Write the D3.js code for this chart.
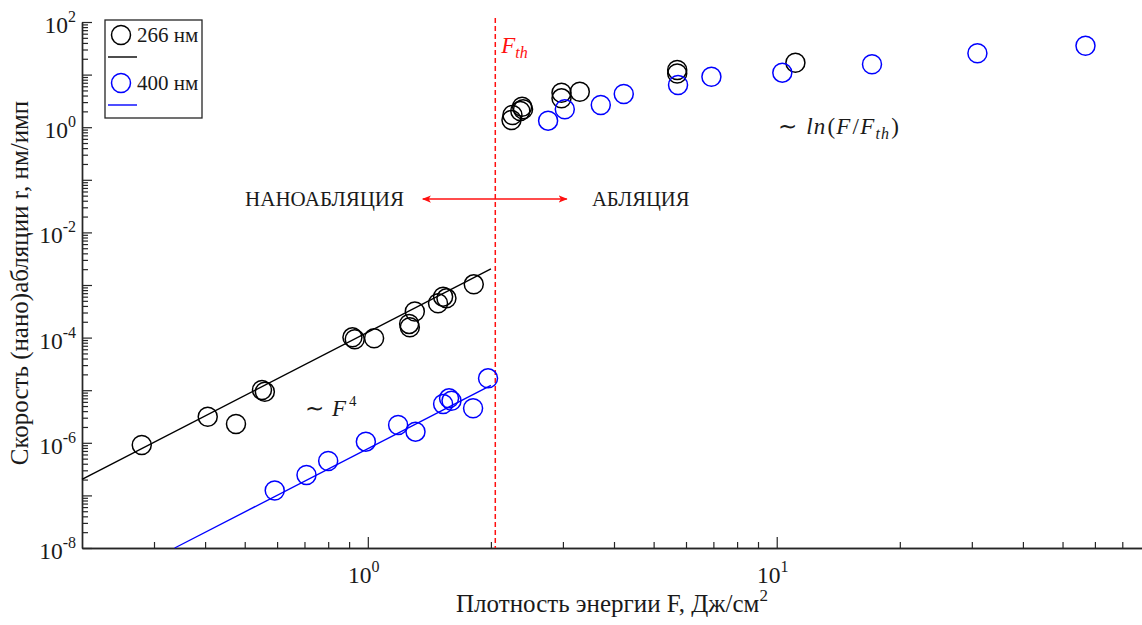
<!DOCTYPE html>
<html>
<head>
<meta charset="utf-8">
<script src="https://cdn.jsdelivr.net/npm/d3@7/dist/d3.min.js"></script>
<style>
  html, body { margin: 0; padding: 0; background: #fff; }
  svg { display: block; }
  text { font-family: "Liberation Serif", "Times New Roman", serif; fill: #1a1a1a; }
</style>
</head>
<body>
<svg id="chart" width="1142" height="625"></svg>
<script>
// Ablation rate vs fluence, 266 nm and 400 nm
const fluence266 = [0.28, 0.406, 0.476, 0.551, 0.560, 0.917, 0.929, 1.036, 1.262, 1.267, 1.303, 1.485, 1.528, 1.557, 1.816,
                    2.258, 2.246, 2.384, 2.397, 2.36, 2.976, 2.976, 3.299, 5.71, 5.71, 11.11];
const rate266    = [9.1e-7, 3.13e-6, 2.28e-6, 1.01e-5, 9.36e-6, 1.01e-4, 9.29e-5, 9.7e-5, 1.82e-4, 1.57e-4, 3.13e-4, 4.49e-4, 6.0e-4, 5.58e-4, 1.03e-3,
                    1.71, 1.37, 2.45, 2.19, 2.03, 4.53, 3.54, 4.73, 12.2, 10.5, 16.8];

const fluence400 = [0.592, 0.708, 0.800, 0.989, 1.186, 1.308, 1.528, 1.58, 1.602, 1.809, 1.968,
                    2.76, 3.032, 3.713, 4.226, 5.737, 6.923, 10.32, 17.1, 30.96, 56.9];
const rate400    = [1.24e-7, 2.44e-7, 4.51e-7, 1.05e-6, 2.18e-6, 1.63e-6, 5.47e-6, 7.0e-6, 6.31e-6, 4.53e-6, 1.68e-5,
                    1.33, 2.19, 2.64, 4.28, 6.34, 9.12, 10.9, 15.7, 25.4, 35.4];

// ~F^4 fit segments (end points)
const fit266F = [0.2, 2.0];
const fit266R = [2.02e-7, 2.02e-3];
const fit400F = [0.337, 2.0];
const fit400R = [1.0e-8, 1.24e-5];

const thresholdF = 2.05;

const xTickValues = [1, 10];
const xTickExp    = ["0", "1"];
const yTickValues = [1e2, 1e0, 1e-2, 1e-4, 1e-6, 1e-8];
const yTickExp    = ["2", "0", "-2", "-4", "-6", "-8"];

const seriesNames  = ["266 нм", "400 нм"];
const seriesColors = ["#000000", "#0000ff"];

const svg = d3.select("#chart");
const x = d3.scaleLog().domain([0.2, 80]).range([82, 1146]);
const y = d3.scaleLog().domain([1e-8, 1e2]).range([548, 22]);

// minor / major ticks
function decadeTicks(lo, hi) {
  const major = [], minor = [];
  for (let e = Math.floor(Math.log10(lo)); e <= Math.ceil(Math.log10(hi)); e++) {
    const p = Math.pow(10, e);
    if (p >= lo * 0.999 && p <= hi * 1.001) major.push(p);
    for (let m = 2; m <= 9; m++) {
      const v = m * p;
      if (v >= lo * 0.999 && v <= hi * 1.001) minor.push(v);
    }
  }
  return { major, minor };
}
const xt = decadeTicks(0.2, 80);
const yt = decadeTicks(1e-8, 1e2);

const axisColor = "#262626";
function styleAxis(g) {
  g.selectAll("path.domain").attr("stroke", axisColor).attr("stroke-width", 1.4);
  g.selectAll(".tick line").attr("stroke", axisColor).attr("stroke-width", 1.2);
  g.selectAll(".tick text").remove();
}

const gx = svg.append("g").attr("transform", "translate(0,548)");
gx.append("g").call(d3.axisBottom(x).tickValues(xt.minor.filter(v => v > 0.21)).tickSize(-6).tickSizeOuter(0).tickFormat("")).call(styleAxis);
gx.append("g").call(d3.axisBottom(x).tickValues(xt.major).tickSize(-11).tickSizeOuter(0).tickFormat("")).call(styleAxis);

const gy = svg.append("g").attr("transform", "translate(82,0)");
gy.append("g").call(d3.axisLeft(y).tickValues(yt.minor).tickSize(-6).tickSizeOuter(0).tickFormat("")).call(styleAxis);
gy.append("g").call(d3.axisLeft(y).tickValues(yt.major).tickSize(-10).tickSizeOuter(0).tickFormat("")).call(styleAxis);

// tick labels with exponents
xTickValues.forEach((v, i) => {
  const t = svg.append("text").attr("x", x(v) - 4).attr("y", 583).attr("text-anchor", "middle").attr("font-size", 23.5);
  t.append("tspan").text("10");
  t.append("tspan").attr("dy", -11).attr("font-size", 16).text(xTickExp[i]);
});
yTickValues.forEach((v, i) => {
  const t = svg.append("text").attr("x", 76).attr("y", y(v) + 11).attr("text-anchor", "end").attr("font-size", 23.5);
  t.append("tspan").text("10");
  t.append("tspan").attr("dy", -11).attr("font-size", 16).text(yTickExp[i]);
});

// axis titles
const xl = svg.append("text").attr("x", 612).attr("y", 612).attr("text-anchor", "middle").attr("font-size", 25);
xl.append("tspan").text("Плотность энергии F, Дж/см");
xl.append("tspan").attr("dy", -11).attr("font-size", 17).text("2");

svg.append("text").attr("transform", "translate(28,283) rotate(-90)").attr("text-anchor", "middle")
  .attr("font-size", 25).text("Скорость (нано)абляции r, нм/имп");

// threshold
svg.append("line").attr("x1", x(thresholdF)).attr("x2", x(thresholdF)).attr("y1", 18).attr("y2", 548)
  .attr("stroke", "#ff1010").attr("stroke-width", 1.5).attr("stroke-dasharray", "5,3");
const fth = svg.append("text").attr("x", x(thresholdF) + 6).attr("y", 53).attr("font-size", 23)
  .attr("font-style", "italic").style("fill", "#ff1010");
fth.append("tspan").text("F");
fth.append("tspan").attr("dy", 5).attr("font-size", 16).text("th");

// regime arrow
const defs = svg.append("defs");
defs.append("marker").attr("id", "ah").attr("viewBox", "0 0 10 10").attr("refX", 9).attr("refY", 5)
  .attr("markerWidth", 9).attr("markerHeight", 9).attr("orient", "auto-start-reverse")
  .attr("markerUnits", "userSpaceOnUse")
  .append("path").attr("d", "M0,1 L10,5 L0,9 L2.5,5 Z").attr("fill", "#ff1010");
const arrowY = y(0.0431);
svg.append("line").attr("x1", x(1.363)).attr("x2", x(3.066)).attr("y1", arrowY).attr("y2", arrowY)
  .attr("stroke", "#ff1010").attr("stroke-width", 1.6)
  .attr("marker-start", "url(#ah)").attr("marker-end", "url(#ah)");
svg.append("text").attr("x", 404).attr("y", arrowY + 7).attr("text-anchor", "end").attr("font-size", 21).text("НАНОАБЛЯЦИЯ");
svg.append("text").attr("x", 592).attr("y", arrowY + 7).attr("font-size", 20.6).text("АБЛЯЦИЯ");

// fit lines
const line = d3.line().x(d => x(d[0])).y(d => y(d[1]));
svg.append("path").attr("d", line(d3.zip(fit266F, fit266R))).attr("fill", "none")
  .attr("stroke", seriesColors[0]).attr("stroke-width", 1.4);
svg.append("path").attr("d", line(d3.zip(fit400F, fit400R))).attr("fill", "none")
  .attr("stroke", seriesColors[1]).attr("stroke-width", 1.4);

// data points
const r = 9.5;
svg.append("g").selectAll("circle").data(d3.zip(fluence266, rate266)).join("circle")
  .attr("cx", d => x(d[0])).attr("cy", d => y(d[1])).attr("r", r)
  .attr("fill", "none").attr("stroke", seriesColors[0]).attr("stroke-width", 1.5);
svg.append("g").selectAll("circle").data(d3.zip(fluence400, rate400)).join("circle")
  .attr("cx", d => x(d[0])).attr("cy", d => y(d[1])).attr("r", r)
  .attr("fill", "none").attr("stroke", seriesColors[1]).attr("stroke-width", 1.5);

// annotations
const f4 = svg.append("text").attr("x", 305).attr("y", 416).attr("font-size", 23);
f4.append("tspan").text("∼");
f4.append("tspan").attr("dx", 8).attr("font-style", "italic").text("F");
f4.append("tspan").attr("dx", 3).attr("dy", -10).attr("font-size", 15).text("4");

const lnT = svg.append("text").attr("x", 778).attr("y", 134).attr("font-size", 23).attr("letter-spacing", 1.2);
lnT.append("tspan").text("∼");
lnT.append("tspan").attr("dx", 8).attr("font-style", "italic").text("ln");
lnT.append("tspan").attr("dx", 1).text("(");
lnT.append("tspan").attr("font-style", "italic").text("F");
lnT.append("tspan").attr("dx", 1).text("/");
lnT.append("tspan").attr("font-style", "italic").text("F");
lnT.append("tspan").attr("dy", 5).attr("font-size", 16).attr("font-style", "italic").text("th");
lnT.append("tspan").attr("dx", 1).attr("dy", -5).text(")");

// legend
const lg = svg.append("g");
lg.append("rect").attr("x", 105).attr("y", 20).attr("width", 97).attr("height", 98)
  .attr("fill", "#fff").attr("stroke", axisColor).attr("stroke-width", 1.3);
seriesNames.forEach((name, i) => {
  const cy = 35 + i * 48;
  lg.append("circle").attr("cx", 121).attr("cy", cy).attr("r", 9.5).attr("fill", "none")
    .attr("stroke", seriesColors[i]).attr("stroke-width", 1.5);
  lg.append("text").attr("x", 137).attr("y", cy + 7).attr("font-size", 21).text(name);
  lg.append("line").attr("x1", 108).attr("x2", 137).attr("y1", cy + 22).attr("y2", cy + 22)
    .attr("stroke", seriesColors[i]).attr("stroke-width", 1.4);
});
</script>
</body>
</html>
